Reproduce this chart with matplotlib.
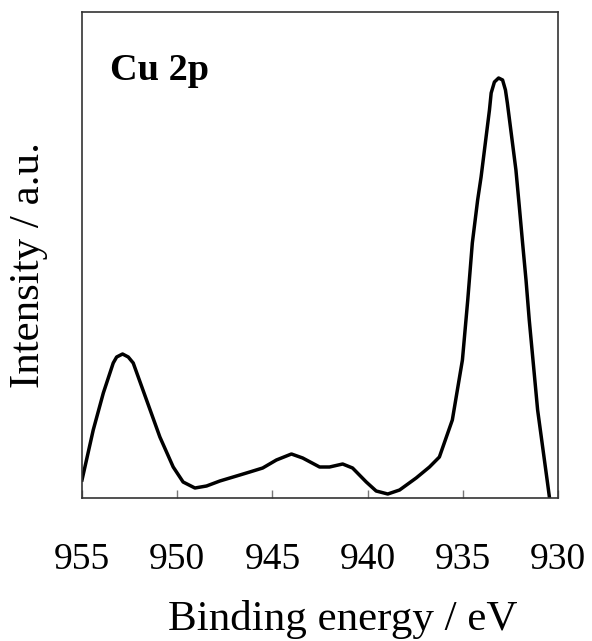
import matplotlib
matplotlib.use("Agg")
import matplotlib.pyplot as plt

# Cu 2p XPS spectrum (a.u.)
binding_energy = [955.0, 954.41, 953.88, 953.36, 953.18, 952.87, 952.57, 952.31,
                  951.61, 950.91, 950.21, 949.69, 949.07, 948.46, 947.76, 946.71,
                  946.19, 945.51, 944.79, 944.00, 943.41, 942.52, 942.0, 941.31,
                  940.79, 940.07, 939.55, 938.94, 938.32, 937.45, 936.75, 936.23,
                  935.55, 935.02, 934.74, 934.50, 934.22, 934.04, 933.60, 933.51,
                  933.34, 933.12, 932.91, 932.76, 932.66, 932.21, 932.03, 931.86,
                  931.68, 931.51, 931.28, 931.07, 930.55, 930.41]
intensity = [18, 68, 105, 135, 141, 144, 141, 135,
             98, 61, 31, 16, 10, 12, 17, 23,
             26, 30, 38, 44, 40, 31, 31, 34,
             30, 16, 7, 4, 8, 20, 31, 41,
             78, 138, 198, 255, 298, 321, 388, 405,
             416, 420, 418, 408, 395, 328, 291, 255,
             218, 178, 131, 88, 15, -5]

x_ticks = [955, 950, 945, 940, 935, 930]

plt.rcParams["font.family"] = ["Liberation Serif", "DejaVu Serif"]

fig = plt.figure(figsize=(5.92, 6.41), dpi=100)
ax = fig.add_axes([82 / 592, 143 / 641, 476 / 592, 486 / 641])

ax.plot(binding_energy, intensity, color="black", linewidth=2.5,
        solid_joinstyle="round")

ax.set_xlim(955, 930)
ax.set_ylim(0, 486)
ax.set_xticks(x_ticks)
ax.set_yticks([])
ax.tick_params(axis="x", direction="in", length=6, width=1, color="#777777",
               labelsize=27, pad=32)

for spine in ax.spines.values():
    spine.set_color("#333333")
    spine.set_linewidth(1.2)

ax.text(0.059, 0.86, "Cu 2p", transform=ax.transAxes, fontsize=27.5,
        fontweight="bold", va="baseline", ha="left")

fig.text(343 / 592, 11 / 641, "Binding energy / eV", fontsize=31,
         ha="center", va="baseline")
fig.text(29 / 592, 376 / 641, "Intensity / a.u.", fontsize=31,
         ha="center", va="center", rotation=90)

fig.savefig("out.png", dpi=100)
plt.close()
